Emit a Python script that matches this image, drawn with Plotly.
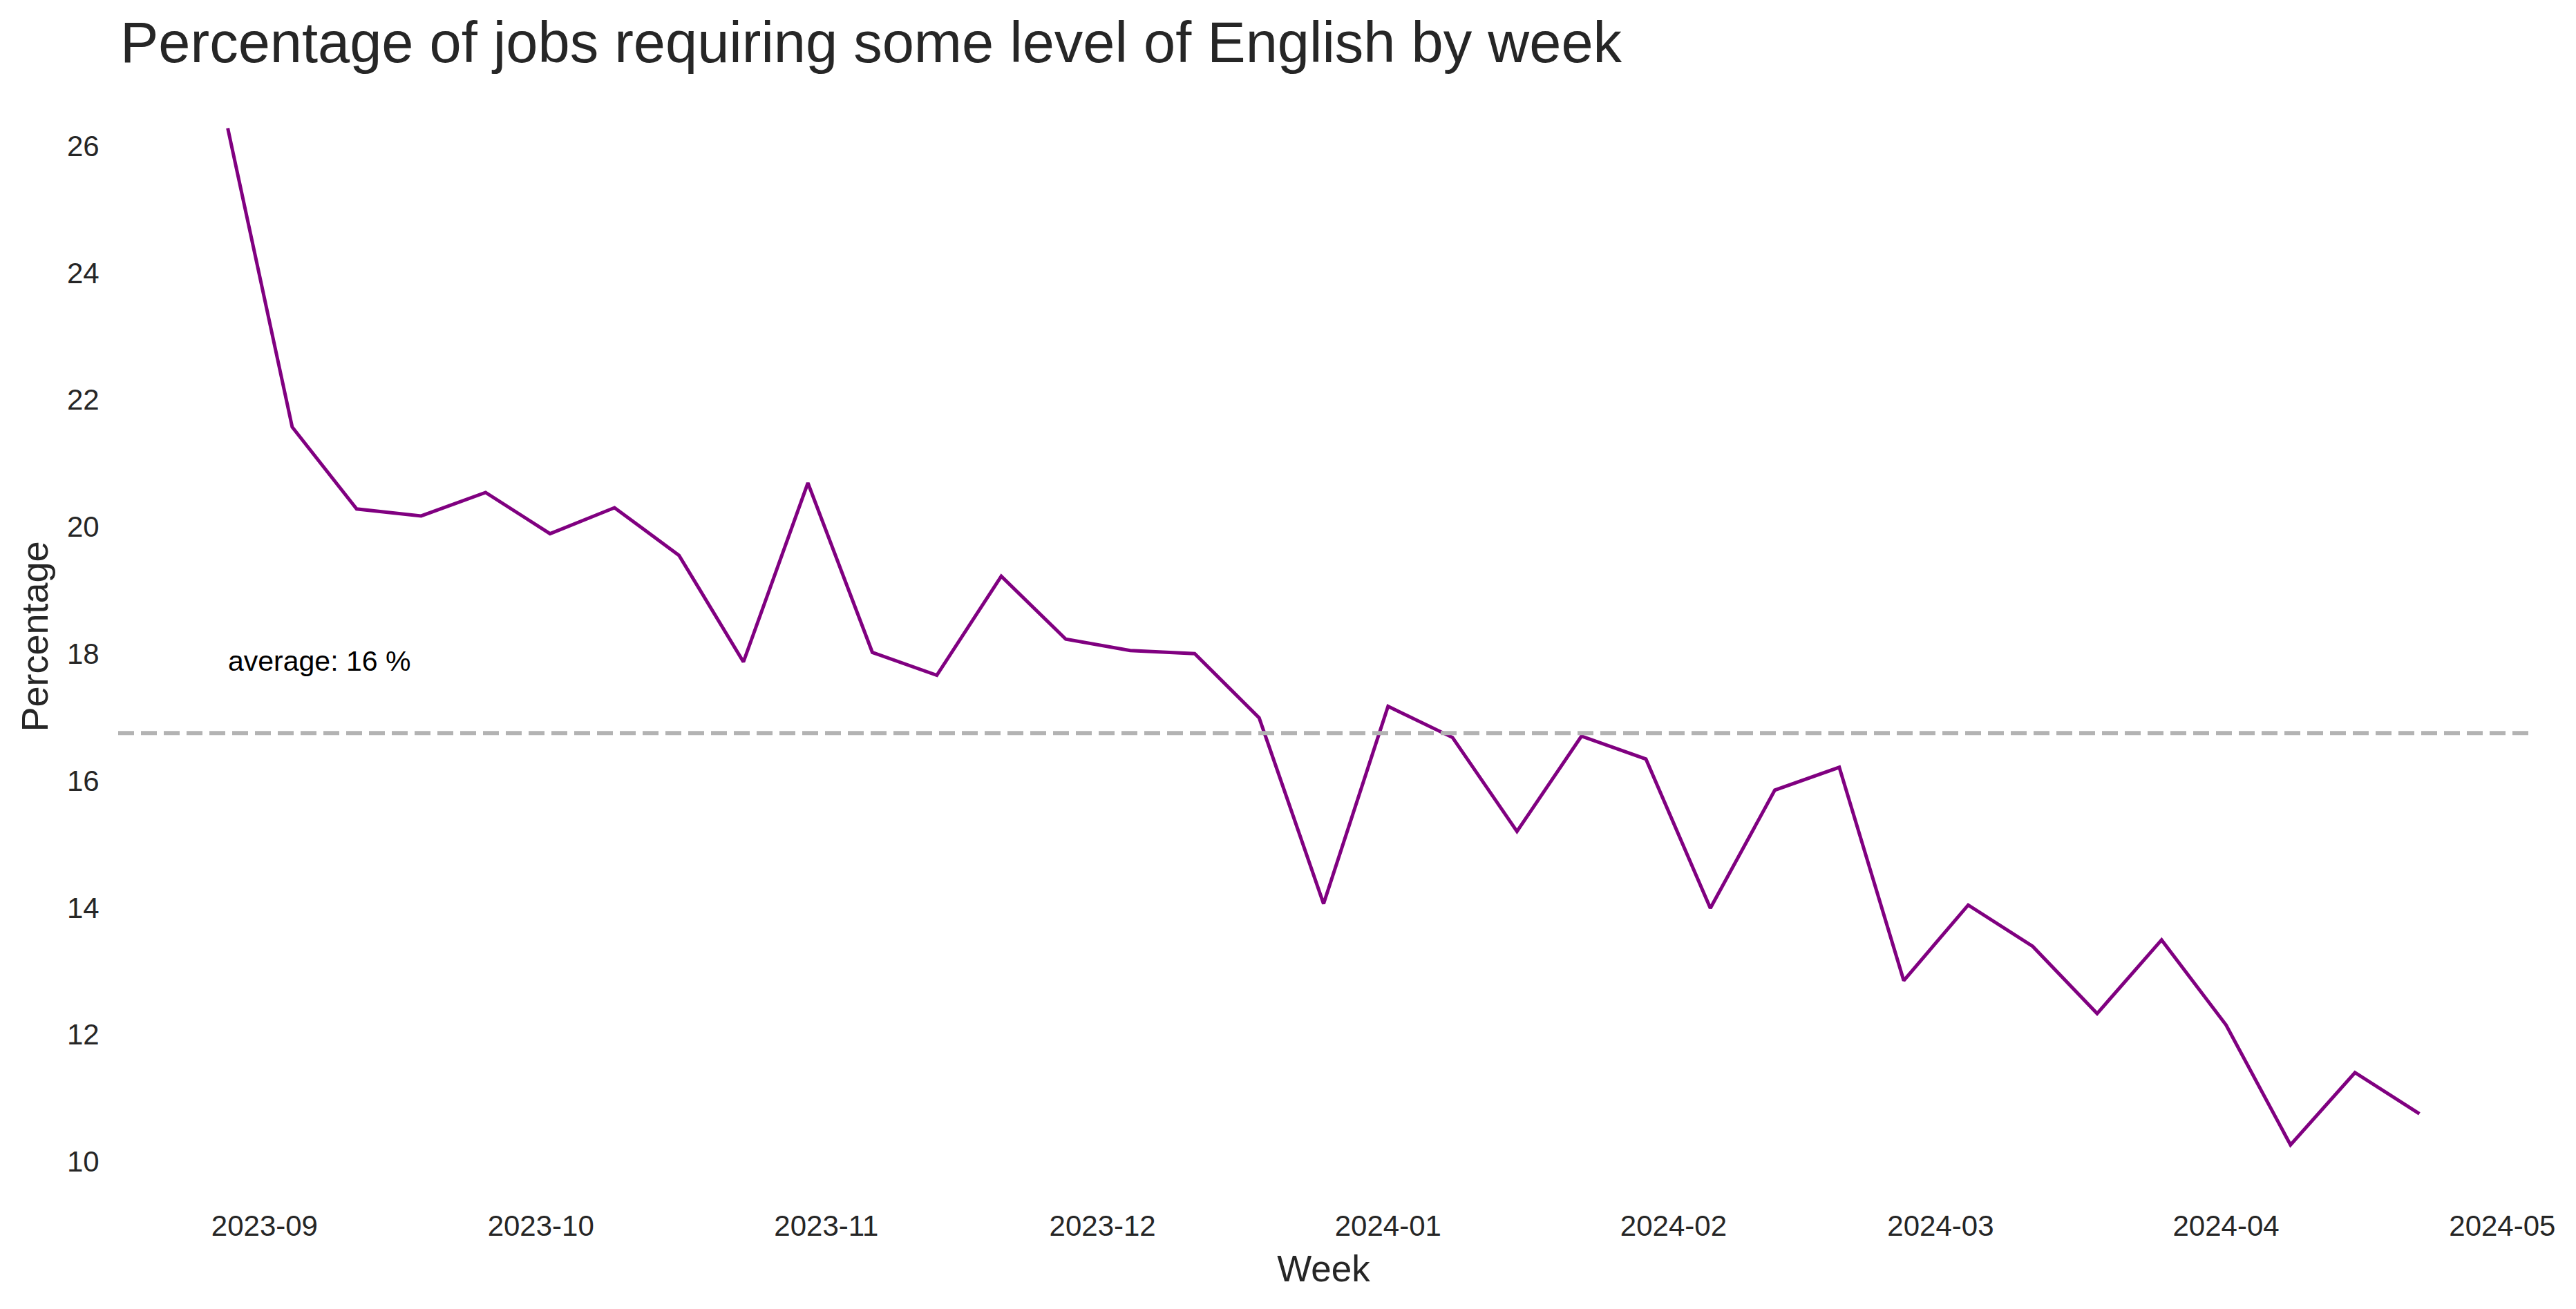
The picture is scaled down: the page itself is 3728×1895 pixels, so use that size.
import plotly.graph_objects as go

# weekly share of job ads asking for some English
weeks = [
    "2023-08-28", "2023-09-04", "2023-09-11", "2023-09-18", "2023-09-25",
    "2023-10-02", "2023-10-09", "2023-10-16", "2023-10-23", "2023-10-30",
    "2023-11-06", "2023-11-13", "2023-11-20", "2023-11-27", "2023-12-04",
    "2023-12-11", "2023-12-18", "2023-12-25", "2024-01-01", "2024-01-08",
    "2024-01-15", "2024-01-22", "2024-01-29", "2024-02-05", "2024-02-12",
    "2024-02-19", "2024-02-26", "2024-03-04", "2024-03-11", "2024-03-18",
    "2024-03-25", "2024-04-01", "2024-04-08", "2024-04-15", "2024-04-22",
]
percentage = [
    26.28, 21.57, 20.28, 20.17, 20.54, 19.89, 20.30, 19.55, 17.87, 20.69,
    18.02, 17.66, 19.22, 18.23, 18.05, 18.00, 16.99, 14.06, 17.17, 16.68,
    15.20, 16.70, 16.34, 13.99, 15.85, 16.21, 12.85, 14.04, 13.39, 12.33,
    13.49, 12.15, 10.26, 11.40, 10.75,
]
average = 16.75
y_ticks = [10, 12, 14, 16, 18, 20, 22, 24, 26]

font = "Arial, Liberation Sans, sans-serif"
dark = "#262626"

# page body has an 8px margin, so the figure is 8px smaller than the window
W, H = 3720, 1887

fig = go.Figure()
fig.add_trace(go.Scatter(
    x=weeks, y=percentage, mode="lines",
    line=dict(color="purple", width=5),
    showlegend=False,
))

# dashed average line across the whole plot
fig.add_hline(y=average, line=dict(color="#b3b3b3", width=6, dash="23px,10px"))
fig.add_annotation(
    x=weeks[0], y=average + 1, text="average: %d %%" % int(average),
    showarrow=False, xanchor="left", yanchor="bottom", yshift=-13, xshift=-2,
    font=dict(family=font, size=41, color="black"),
)

fig.update_layout(
    width=W, height=H,
    paper_bgcolor="white", plot_bgcolor="white",
    margin=dict(l=163, r=68, t=104, b=164, autoexpand=False),
    title=dict(
        text="Percentage of jobs requiring some level of English by week",
        x=166 / W, xanchor="left", xref="container",
        y=1 - 24 / H, yanchor="top", yref="container",
        pad=dict(l=0, t=0, r=0, b=0),
        font=dict(family=font, size=83, color=dark),
    ),
    font=dict(family=font, color=dark),
)
fig.update_xaxes(
    type="date", range=["2023-08-16 02:24", "2024-05-03 21:36"],
    tickformat="%Y-%m", dtick="M1", tick0="2023-09-01",
    showgrid=False, zeroline=False, showline=False, automargin=False,
    ticks="outside", ticklen=7, tickcolor="rgba(0,0,0,0)",
    tickfont=dict(family=font, size=42, color=dark),
    title=dict(text="Week", font=dict(family=font, size=53, color=dark), standoff=20),
)
fig.update_yaxes(
    range=[9.46, 27.08], tickvals=y_ticks,
    showgrid=False, zeroline=False, showline=False, automargin=False,
    ticks="outside", ticklen=18, tickcolor="rgba(0,0,0,0)",
    tickfont=dict(family=font, size=42, color=dark),
    title=dict(text="Percentage", font=dict(family=font, size=54, color=dark), standoff=9),
)

fig.write_html("out.html")
